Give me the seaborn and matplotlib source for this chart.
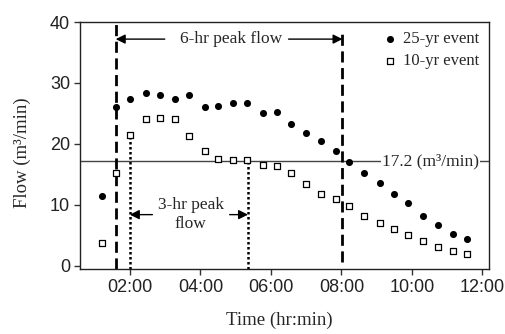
import numpy as np
import pandas as pd
import seaborn as sns
import matplotlib.pyplot as plt

# time of each reading (hours) and flows
time_hr = [1.20, 1.61, 2.00, 2.45, 2.86, 3.27, 3.67, 4.12, 4.51, 4.93, 5.33, 5.78, 6.17,
           6.58, 6.99, 7.43, 7.84, 8.22, 8.64, 9.08, 9.49, 9.90, 10.31, 10.75, 11.16, 11.57]
flow_25yr = [11.4, 26.1, 27.3, 28.4, 28.0, 27.4, 28.0, 26.0, 26.3, 26.7, 26.7, 25.1, 25.2,
             23.2, 21.8, 20.4, 18.9, 17.0, 15.2, 13.6, 11.8, 10.3, 8.2, 6.7, 5.2, 4.4]
flow_10yr = [3.7, 15.2, 21.5, 24.1, 24.3, 24.1, 21.3, 18.9, 17.6, 17.4, 17.4, 16.5, 16.3,
             15.2, 13.4, 11.8, 10.9, 9.8, 8.2, 7.0, 6.1, 5.0, 4.0, 3.1, 2.5, 2.0]
series_names = ['25-yr event', '10-yr event']
xtick_vals = [2, 4, 6, 8, 10, 12]
xtick_labels = ['02:00', '04:00', '06:00', '08:00', '10:00', '12:00']
ytick_vals = [0, 10, 20, 30, 40]
threshold = 17.2
six_hr = (1.60, 8.03)
three_hr = (2.00, 5.35)

df = pd.DataFrame({
    'time': time_hr * 2,
    'flow': flow_25yr + flow_10yr,
    'event': [series_names[0]] * len(time_hr) + [series_names[1]] * len(time_hr),
})

sns.set_style('ticks')
plt.rcParams['font.family'] = ['Liberation Serif', 'DejaVu Serif']

fig = plt.figure(figsize=(5.05, 3.34), dpi=100)
ax = fig.add_axes([0.158, 0.195, 0.810, 0.739])

d25 = df[df['event'] == series_names[0]]
d10 = df[df['event'] == series_names[1]]
sns.scatterplot(data=d25, x='time', y='flow', marker='o', s=26, color='black',
                edgecolor='black', linewidth=0, label=series_names[0], ax=ax, zorder=3)
sns.scatterplot(data=d10, x='time', y='flow', marker='s', s=20, facecolor='white',
                edgecolor='black', linewidth=0.9, label=series_names[1], ax=ax, zorder=3)

ax.set_xlim(0.58, 12.18)
ax.set_ylim(-0.5, 40)
ax.set_xticks(xtick_vals)
ax.set_xticklabels(xtick_labels)
ax.set_yticks(ytick_vals)
for lab in ax.get_xticklabels() + ax.get_yticklabels():
    lab.set_family(['Liberation Sans', 'DejaVu Sans'])
    lab.set_fontsize(13)
    lab.set_color('#222222')
ax.tick_params(direction='out', length=4, width=1, color='#333333', pad=3)
for sp in ax.spines.values():
    sp.set_linewidth(1.0)
    sp.set_color('#222222')

# threshold line
ax.axhline(threshold, color='#444444', lw=1.0, zorder=1)
ax.text(10.53, threshold, '17.2 (m³/min)', ha='center', va='center', fontsize=12.5,
        bbox=dict(facecolor='white', edgecolor='none', pad=0.5), zorder=2)

# 6-hr window
ax.axvline(six_hr[0], color='black', lw=2, ls=(0, (4, 2)), zorder=2)
ax.vlines(six_hr[1], 0.7, 38.6, color='black', lw=2, ls=(0, (4, 2)), zorder=2)
ax.annotate('', xy=(six_hr[0], 37.2), xytext=(2.99, 37.2),
            arrowprops=dict(arrowstyle='-|>', color='black', lw=1, mutation_scale=14,
                            shrinkA=0, shrinkB=0))
ax.annotate('', xy=(six_hr[1], 37.2), xytext=(6.50, 37.2),
            arrowprops=dict(arrowstyle='-|>', color='black', lw=1, mutation_scale=14,
                            shrinkA=0, shrinkB=0))
ax.text(4.88, 37.2, '6-hr peak flow', ha='center', va='center', fontsize=12.5)

# 3-hr window
ax.vlines(three_hr[0], -0.5, 21.2, color='black', lw=1.8, ls=(0, (1, 1)), zorder=2)
ax.vlines(three_hr[1], -0.5, 17.7, color='black', lw=1.8, ls=(0, (1, 1)), zorder=2)
ax.annotate('', xy=(three_hr[0], 8.4), xytext=(2.64, 8.4),
            arrowprops=dict(arrowstyle='-|>', color='black', lw=1, mutation_scale=14,
                            shrinkA=0, shrinkB=0))
ax.annotate('', xy=(three_hr[1], 8.4), xytext=(4.83, 8.4),
            arrowprops=dict(arrowstyle='-|>', color='black', lw=1, mutation_scale=14,
                            shrinkA=0, shrinkB=0))
ax.text(3.73, 8.4, '3-hr peak\nflow', ha='center', va='center', fontsize=12.5,
        linespacing=1.25)

ax.set_xlabel('Time (hr:min)', fontsize=13.5)
ax.set_ylabel('Flow (m³/min)', fontsize=13.5)
ax.xaxis.set_label_coords(0.487, -0.175)
ax.yaxis.set_label_coords(-0.12, 0.47)

ax.legend(loc='upper right', frameon=False, fontsize=12, handletextpad=0.2,
          labelspacing=0.35, borderaxespad=0.15, handlelength=1.2)

fig.savefig('out.png', dpi=100)
